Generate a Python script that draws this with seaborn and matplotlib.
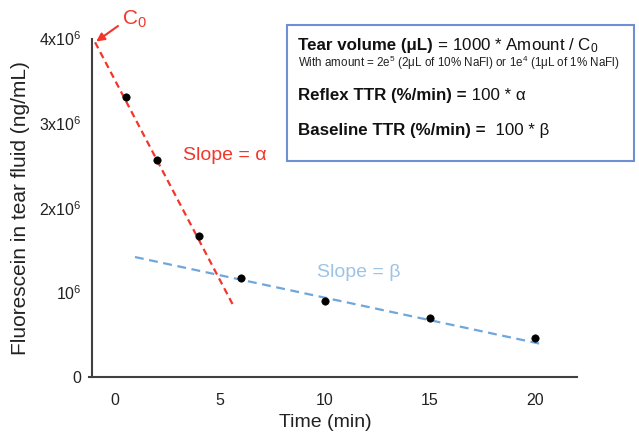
import matplotlib
matplotlib.use("Agg")
import matplotlib.pyplot as plt
import seaborn as sns
import pandas as pd
from matplotlib.patches import Rectangle

# ---- data ----
time_min = [0.5, 2, 4, 6, 10, 15, 20]
fluor = [3.31e6, 2.56e6, 1.67e6, 1.17e6, 0.90e6, 0.70e6, 0.465e6]
alpha_x = [-0.95, 5.63]
alpha_y = [3.955e6, 0.85e6]
beta_x = [0.95, 20.37]
beta_y = [1.42e6, 0.39e6]
x_ticks = [0, 5, 10, 15, 20]
y_ticks = [0, 1e6, 2e6, 3e6, 4e6]
y_ticklabels = ["0", "10$^{6}$", "2x10$^{6}$", "3x10$^{6}$", "4x10$^{6}$"]

sns.set_style("white")
plt.rcParams["font.family"] = ["Liberation Sans", "DejaVu Sans"]
plt.rcParams["mathtext.fontset"] = "custom"
plt.rcParams["mathtext.rm"] = "Liberation Sans"
plt.rcParams["mathtext.it"] = "Liberation Sans:italic"
plt.rcParams["mathtext.bf"] = "Liberation Sans:bold"

RED = "#F4352A"
BLUE_LINE = "#6FA6DC"
BLUE_TXT = "#9DC3E6"
AX_COL = "#404040"

W, H = 639, 438
fig = plt.figure(figsize=(W / 100, H / 100), dpi=100)
ax = fig.add_axes([89 / W, 1 - 377.3 / H, 487.7 / W, 338.8 / H])

df = pd.DataFrame({"t": time_min, "f": fluor})
da = pd.DataFrame({"t": alpha_x, "f": alpha_y})
db = pd.DataFrame({"t": beta_x, "f": beta_y})

sns.lineplot(data=da, x="t", y="f", ax=ax, color=RED, lw=1.6,
             linestyle=(0, (3, 2)), zorder=2)
sns.lineplot(data=db, x="t", y="f", ax=ax, color=BLUE_LINE, lw=1.6,
             linestyle=(0, (4, 2.5)), zorder=2)
sns.scatterplot(data=df, x="t", y="f", ax=ax, color="black", s=28,
                edgecolor="black", linewidth=0.5, zorder=3)

ax.set_xlim(-1.24, 22.0)
ax.set_ylim(0, 4e6)
ax.spines["left"].set_position(("data", -1.08))
for s in ["top", "right"]:
    ax.spines[s].set_visible(False)
for s in ["left", "bottom"]:
    ax.spines[s].set_color(AX_COL)
    ax.spines[s].set_linewidth(1.5)
ax.set_xticks(x_ticks)
ax.set_yticks(y_ticks)
ax.set_yticklabels(y_ticklabels)
ax.tick_params(axis="both", direction="out", length=4, width=1.3,
               color=AX_COL, labelsize=11.5, labelcolor="#222222", pad=4)
ax.tick_params(axis="x", pad=7)

ax.set_xlabel("Time (min)", fontsize=14, color="#222222")
ax.set_ylabel("Fluorescein in tear fluid (ng/mL)", fontsize=15, color="#222222")
ax.xaxis.set_label_coords(0.484, -0.108)
ax.yaxis.set_label_coords(-0.12, 0.5)

# slope labels
ax.text(3.24, 2.62e6, "Slope = \u03b1", color=RED, fontsize=14, va="center", ha="left")
ax.text(9.62, 1.235e6, "Slope = \u03b2", color=BLUE_TXT, fontsize=14, va="center", ha="left")

# C0 annotation
ax.annotate("", xy=(alpha_x[0], alpha_y[0]), xycoords="data",
            xytext=(118, H - 26), textcoords="figure pixels",
            arrowprops=dict(arrowstyle="-|>", color=RED, lw=1.5,
                            mutation_scale=12, shrinkA=0, shrinkB=1),
            annotation_clip=False)
fig.text(122 / W, 1 - 19 / H, "C$_{0}$", color=RED, fontsize=15,
         ha="left", va="center")

# formula box
box = Rectangle((287 / W, 1 - 161 / H), (634 - 287) / W, (161 - 25) / H,
                transform=fig.transFigure, fill=True, facecolor="white",
                edgecolor="#6E8FD3", lw=1.5, zorder=5)
fig.patches.append(box)

x0 = 298 / W
lines = [
    (50, "Tear volume (\u03bcL)", " = 1000 * Amount / C$_{0}$", 12.2),
    (100, "Reflex TTR (%/min) =", " 100 * \u03b1", 12.2),
    (135, "Baseline TTR (%/min) =", "  100 * \u03b2", 12.2),
]
fig.canvas.draw()
r = fig.canvas.get_renderer()
for ypx, bold, normal, fs in lines:
    t1 = fig.text(x0, 1 - ypx / H, bold, fontsize=fs, weight="bold",
                  ha="left", va="baseline", color="#111111", zorder=6)
    bb = t1.get_window_extent(renderer=r)
    fig.text(bb.x1 / W, 1 - ypx / H, normal, fontsize=fs, ha="left",
             va="baseline", color="#111111", zorder=6)
fig.text(x0, 1 - 67 / H,
         "With amount = 2e$^{5}$ (2\u03bcL of 10% NaFl) or 1e$^{4}$ (1\u03bcL of 1% NaFl)",
         fontsize=8.4, ha="left", va="baseline", color="#222222", zorder=6)

fig.savefig("out.png", dpi=100)
